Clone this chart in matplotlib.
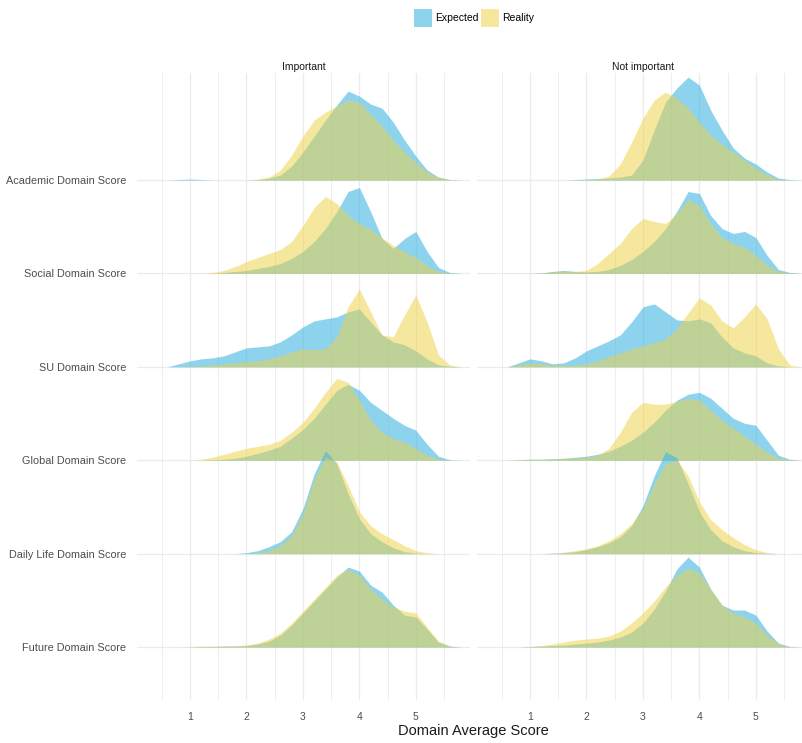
import numpy as np
import matplotlib.pyplot as plt
from matplotlib.patches import Patch

plt.rcParams['font.family'] = ['Liberation Sans', 'DejaVu Sans']

# sample positions of the density estimates (domain average score)
score = np.round(np.arange(0.6, 5.81, 0.2), 1)

domains = ['Academic Domain Score', 'Social Domain Score', 'SU Domain Score',
           'Global Domain Score', 'Daily Life Domain Score', 'Future Domain Score']
panels = ['Important', 'Not important']
groups = ['Expected', 'Reality']

# density curves, "Important" panel
academic_imp_expected = [0, .005, .01, .005, 0, 0, 0, 0, .005, .02, .05, .14, .28, .44, .60, .75, .89, .84, .76, .72, .58, .40, .24, .10, .03, .005, 0]
academic_imp_reality = [0, 0, 0, 0, 0, 0, 0, 0, .01, .03, .10, .25, .44, .60, .68, .74, .80, .78, .66, .54, .40, .28, .18, .08, .03, .005, 0]
social_imp_expected = [0, 0, 0, 0, 0, .01, .02, .03, .05, .07, .10, .15, .22, .32, .45, .62, .82, .86, .62, .35, .25, .35, .42, .22, .06, .01, 0]
social_imp_reality = [0, 0, 0, 0, .01, .03, .07, .12, .16, .20, .24, .32, .48, .66, .77, .70, .58, .50, .44, .36, .28, .22, .16, .08, .02, .005, 0]
su_imp_expected = [0, .03, .06, .08, .09, .11, .15, .19, .20, .21, .25, .32, .40, .46, .48, .50, .55, .58, .45, .32, .25, .22, .16, .08, .02, .005, 0]
su_imp_reality = [0, 0, .005, .01, .02, .03, .04, .05, .06, .08, .11, .15, .18, .17, .18, .30, .60, .78, .55, .32, .30, .52, .72, .45, .12, .02, 0]
global_imp_expected = [0, 0, 0, 0, .005, .01, .02, .04, .07, .10, .14, .22, .31, .42, .56, .70, .76, .70, .58, .50, .42, .35, .30, .16, .04, .005, 0]
global_imp_reality = [0, 0, 0, .01, .03, .06, .09, .12, .14, .16, .20, .28, .38, .52, .68, .82, .78, .60, .40, .28, .22, .18, .12, .05, .01, 0, 0]
daily_imp_expected = [0, 0, 0, 0, 0, 0, 0, .01, .03, .07, .12, .22, .45, .80, 1.03, .90, .60, .35, .20, .12, .06, .02, .005, 0, 0, 0, 0]
daily_imp_reality = [0, 0, 0, 0, 0, 0, 0, 0, .01, .03, .08, .18, .40, .75, .97, .92, .68, .42, .28, .20, .14, .08, .03, .01, 0, 0, 0]
future_imp_expected = [0, 0, 0, .005, .005, .01, .01, .015, .03, .06, .12, .22, .34, .46, .58, .70, .80, .76, .62, .55, .42, .32, .30, .18, .05, .01, 0]
future_imp_reality = [0, 0, .005, .01, .01, .01, .015, .02, .04, .08, .14, .24, .36, .48, .60, .72, .78, .72, .58, .48, .40, .36, .34, .20, .06, .01, 0]

# density curves, "Not important" panel
academic_not_expected = [0, 0, 0, 0, 0, 0, .005, .01, .015, .02, .03, .05, .20, .50, .78, .92, 1.03, .95, .70, .50, .32, .22, .16, .08, .02, .005, 0]
academic_not_reality = [0, 0, 0, 0, 0, 0, 0, .005, .01, .04, .16, .38, .62, .80, .88, .82, .72, .58, .45, .36, .28, .20, .12, .05, .01, 0, 0]
social_not_expected = [0, 0, 0, .005, .02, .03, .02, .015, .02, .04, .08, .14, .22, .32, .45, .62, .82, .80, .58, .45, .40, .42, .36, .18, .04, .01, 0]
social_not_reality = [0, 0, 0, .005, .015, .025, .02, .03, .10, .20, .30, .45, .55, .52, .50, .60, .74, .68, .50, .36, .30, .26, .18, .08, .02, .005, 0]
su_not_expected = [0, .04, .08, .06, .03, .04, .09, .16, .21, .26, .32, .45, .60, .63, .55, .47, .46, .48, .44, .30, .19, .14, .11, .04, .01, 0, 0]
su_not_reality = [0, .02, .04, .03, .02, .015, .02, .03, .06, .10, .14, .18, .21, .24, .28, .38, .54, .69, .62, .46, .39, .50, .63, .48, .18, .02, 0]
global_not_expected = [0, .005, .01, .01, .015, .02, .03, .04, .06, .09, .14, .20, .28, .38, .50, .60, .66, .68, .62, .52, .42, .37, .35, .20, .05, .01, 0]
global_not_reality = [0, .005, .01, .01, .015, .02, .02, .03, .05, .12, .28, .48, .58, .56, .56, .59, .62, .60, .50, .40, .32, .24, .16, .08, .02, .005, 0]
daily_not_expected = [0, 0, 0, 0, .005, .01, .02, .04, .07, .11, .17, .28, .48, .78, 1.02, .96, .70, .42, .24, .13, .07, .03, .01, .005, 0, 0, 0]
daily_not_reality = [0, 0, 0, 0, .005, .015, .03, .05, .08, .13, .20, .30, .45, .70, .90, .94, .78, .52, .34, .24, .16, .09, .04, .01, 0, 0, 0]
future_not_expected = [0, 0, .005, .01, .015, .02, .03, .04, .05, .07, .10, .15, .24, .38, .56, .78, .90, .80, .58, .42, .37, .37, .32, .16, .04, .005, 0]
future_not_reality = [0, 0, .005, .015, .03, .05, .07, .08, .09, .11, .16, .24, .34, .46, .60, .72, .79, .74, .58, .42, .34, .30, .24, .12, .03, .005, 0]

curves = {
    'Important': [
        (academic_imp_expected, academic_imp_reality),
        (social_imp_expected, social_imp_reality),
        (su_imp_expected, su_imp_reality),
        (global_imp_expected, global_imp_reality),
        (daily_imp_expected, daily_imp_reality),
        (future_imp_expected, future_imp_reality),
    ],
    'Not important': [
        (academic_not_expected, academic_not_reality),
        (social_not_expected, social_not_reality),
        (su_not_expected, su_not_reality),
        (global_not_expected, global_not_reality),
        (daily_not_expected, daily_not_reality),
        (future_not_expected, future_not_reality),
    ],
}

fill_colors = {'Expected': '#41B6E4', 'Reality': '#EFD141'}
fill_alpha = {'Expected': 0.6, 'Reality': 0.5}
ridge_scale = 1.07  # ridge height relative to row spacing
text_col = '#4D4D4D'
grid_col = '#EBEBEB'

fig = plt.figure(figsize=(8.03, 7.43), dpi=100)
W, H = 803, 743
axes_px = [(137, 333), (477, 333)]
ax_list = []
for (x0, w) in axes_px:
    ax = fig.add_axes([x0 / W, 43 / H, w / W, 627 / H])
    ax_list.append(ax)

n = len(domains)
for ax, panel in zip(ax_list, panels):
    ax.set_xlim(0.06, 5.96)
    ax.set_ylim(-0.567, n - 1 + 1.146)
    for s in ax.spines.values():
        s.set_visible(False)
    ax.set_xticks([1, 2, 3, 4, 5])
    ax.set_xticks([0.5, 1.5, 2.5, 3.5, 4.5, 5.5], minor=True)
    ax.set_yticks(range(n))
    ax.tick_params(axis='both', which='both', length=0, colors=text_col)
    ax.tick_params(axis='x', labelsize=7.5, pad=9)
    ax.grid(True, which='major', color=grid_col, lw=0.9)
    ax.grid(True, which='minor', axis='x', color=grid_col, lw=0.6)
    ax.set_axisbelow(True)
    if panel == 'Important':
        ax.set_yticklabels(domains[::-1], fontsize=7.8)
        ax.tick_params(axis='y', pad=8)
    else:
        ax.set_yticklabels([])
    ax.set_title(panel, fontsize=7.5, color='#1A1A1A', pad=2)

    # upper ridges first so the lower ones sit in front
    for i, pair in enumerate(curves[panel]):
        base = n - 1 - i
        for g, dens in zip(groups, pair):
            top = base + np.array(dens) * ridge_scale
            ax.fill_between(score, base, top, color=fill_colors[g],
                            alpha=fill_alpha[g], lw=0, zorder=2 + i)

fig.text(473 / W, 1 - 731 / H, 'Domain Average Score', ha='center',
         va='center', fontsize=10.5, color='#1A1A1A')

handles = [Patch(facecolor=fill_colors[g], alpha=fill_alpha[g], lw=0) for g in groups]
fig.legend(handles, groups, loc='center', bbox_to_anchor=(474 / W, 1 - 18 / H),
           ncol=2, frameon=False, fontsize=7.5, handlelength=1.75,
           handleheight=2.2, handletextpad=0.25, columnspacing=0.25)

fig.savefig('out.png', dpi=100)
